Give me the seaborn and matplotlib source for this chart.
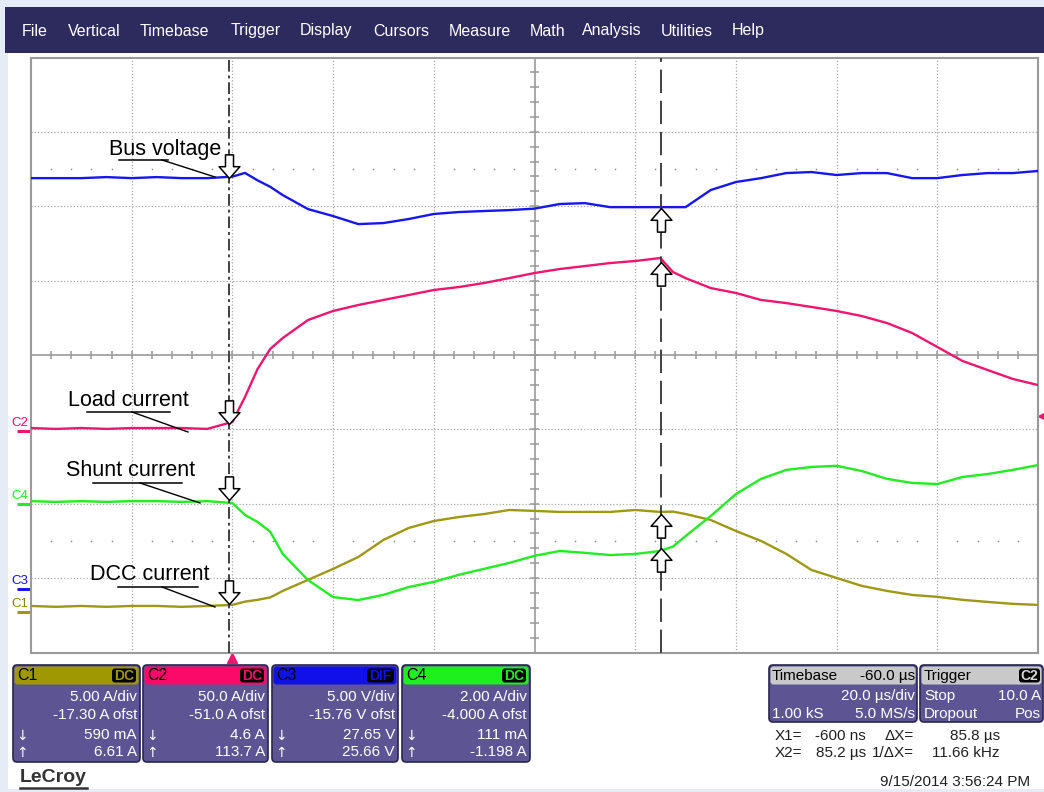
import numpy as np
import pandas as pd
import matplotlib
matplotlib.use("Agg")
import matplotlib.pyplot as plt
import seaborn as sns
from matplotlib.patches import Rectangle, FancyBboxPatch
from matplotlib.path import Path
from matplotlib.transforms import blended_transform_factory

# ---------------- data ----------------
time_us = [-40, -35, -30, -25, -20, -15, -10, -5, 0, 2.5, 5, 7.5, 10, 15, 20, 25, 30,
           35, 40, 45, 50, 55, 60, 65, 70, 75, 80, 85, 87.5, 90, 95, 100, 105, 110,
           115, 120, 125, 130, 135, 140, 145, 150, 155, 160]

c1_dcc_A = [0.43, 0.37, 0.43, 0.37, 0.43, 0.43, 0.37, 0.43, 0.50, 0.72, 0.84, 1.00,
            1.44, 2.18, 2.92, 3.72, 4.87, 5.67, 6.14, 6.41, 6.61, 6.88, 6.82, 6.75,
            6.75, 6.75, 6.88, 6.75, 6.77, 6.61, 6.21, 5.47, 4.80, 3.93, 2.85, 2.31,
            1.78, 1.44, 1.17, 1.04, 0.84, 0.70, 0.57, 0.50]

c2_load_A = [1.9, 1.3, 1.9, 1.3, 1.9, 1.9, 1.9, 1.3, 6.0, 22.8, 41.6, 55.0, 62.4,
             74.5, 80.6, 84.6, 88.0, 91.3, 94.7, 96.7, 99.4, 102.7, 106.1, 108.8,
             110.8, 112.8, 114.2, 116.2, 106.8, 102.7, 96.0, 92.7, 88.0, 85.9, 83.3,
             80.6, 77.2, 72.5, 65.8, 56.4, 47.0, 40.9, 34.9, 30.8]

c3_bus_V = [27.65, 27.65, 27.65, 27.72, 27.65, 27.72, 27.65, 27.65, 27.75, 28.00,
            27.50, 27.07, 26.51, 25.57, 25.10, 24.56, 24.63, 24.90, 25.24, 25.37,
            25.44, 25.50, 25.60, 25.91, 25.97, 25.70, 25.70, 25.70, 25.70, 25.70,
            26.85, 27.39, 27.65, 27.99, 28.06, 27.86, 27.99, 27.99, 27.65, 27.65,
            27.86, 27.99, 27.99, 28.13]

c4_shunt_A = [0.07, 0.05, 0.07, 0.05, 0.07, 0.07, 0.05, 0.07, 0.02, -0.30, -0.49,
              -0.75, -1.35, -2.05, -2.51, -2.59, -2.45, -2.24, -2.10, -1.91, -1.75,
              -1.59, -1.40, -1.27, -1.32, -1.38, -1.35, -1.27, -1.15, -0.87, -0.33,
              0.26, 0.67, 0.91, 0.99, 1.02, 0.88, 0.67, 0.56, 0.53, 0.72, 0.80,
              0.91, 1.04]

channels = ["C1", "C2", "C3", "C4"]
units_per_div = [5.00, 50.0, 5.00, 2.00]
offsets = [-17.30, -51.0, -15.76, -4.000]
value_at_x1 = [0.590, 4.6, 27.65, 0.111]
value_at_x2 = [6.61, 113.7, 25.66, -1.198]
cursor_x1_us = -0.6
cursor_x2_us = 85.2
trigger_level_A = 10.0

scale_labels = ["5.00 A/div", "50.0 A/div", "5.00 V/div", "2.00 A/div"]
offset_labels = ["-17.30 A ofst", "-51.0 A ofst", "-15.76 V ofst", "-4.000 A ofst"]
x1_labels = ["590 mA", "4.6 A", "27.65 V", "111 mA"]
x2_labels = ["6.61 A", "113.7 A", "25.66 V", "-1.198 A"]
coupling = ["DC", "DC", "DIF", "DC"]
menu_items = ["File", "Vertical", "Timebase", "Trigger", "Display", "Cursors",
              "Measure", "Math", "Analysis", "Utilities", "Help"]

trace_colors = {"C1": "#9e9815", "C2": "#f0166e", "C3": "#1616ee", "C4": "#22ec22"}
head_colors = {"C1": "#a09800", "C2": "#fb0a6a", "C3": "#1010e8", "C4": "#1ef01e"}

# ---------------- figure ----------------
plt.rcParams['font.family'] = ['Liberation Sans', 'DejaVu Sans']
fig = plt.figure(figsize=(10.44, 7.92), dpi=100, facecolor='white')
ax = fig.add_axes([31 / 1044, 1 - 652.5 / 792, 1007 / 1044, 595 / 792])
ax.set_facecolor('white')

series = {"C1": c1_dcc_A, "C2": c2_load_A, "C3": c3_bus_V, "C4": c4_shunt_A}
rows = []
for i, ch in enumerate(channels):
    for t, v in zip(time_us, series[ch]):
        rows.append({"t": t, "div": (v + offsets[i]) / units_per_div[i], "ch": ch})
df = pd.DataFrame(rows)

# grid
grid_c = '#a8a8a8'
for t in [-20, 0, 20, 40, 80, 100, 120, 140]:
    ax.axvline(t, color=grid_c, lw=0.9, ls=(0, (1, 1.6)), zorder=1)
for d in [-3, -2, -1, 1, 2, 3]:
    ax.axhline(d, color=grid_c, lw=0.9, ls=(0, (1, 1.6)), zorder=1)
ax.axvline(60, color='#9a9a9a', lw=1.2, zorder=1)
ax.axhline(0, color='#9a9a9a', lw=1.2, zorder=1)
minor_t = np.arange(-40, 161, 4)
minor_d = np.arange(-4, 4.01, 0.2)
ax.vlines(minor_t, -0.055, 0.055, color='#9a9a9a', lw=1.1, zorder=1)
ax.hlines(minor_d, 59.2, 60.8, color='#9a9a9a', lw=1.1, zorder=1)
dots_t = [t for t in minor_t if t % 20 != 0]
ax.scatter(dots_t, [2.5] * len(dots_t), s=1.5, color='#909090', zorder=1, lw=0)
ax.scatter(dots_t, [-2.5] * len(dots_t), s=1.5, color='#909090', zorder=1, lw=0)

sns.lineplot(data=df, x="t", y="div", hue="ch", hue_order=["C1", "C4", "C2", "C3"],
             palette=trace_colors, estimator=None, sort=False, linewidth=1.7,
             legend=False, ax=ax, zorder=4)

ax.set_xlim(-40, 160)
ax.set_ylim(-4, 4)
ax.set_xticks([])
ax.set_yticks([])
ax.set_xlabel("")
ax.set_ylabel("")
for s in ax.spines.values():
    s.set_color('#9a9a9a')
    s.set_linewidth(1.5)

# cursors
ax.axvline(cursor_x1_us, color='#404040', lw=1.4, ls=(0, (6, 2, 1.5, 2)), zorder=5)
ax.axvline(cursor_x2_us, color='#404040', lw=1.4, ls=(0, (12, 4)), zorder=5)

MV, LT, CL = Path.MOVETO, Path.LINETO, Path.CLOSEPOLY
dn = [(0, 0), (0.44, 0.5), (0.17, 0.5), (0.17, 1), (-0.17, 1), (-0.17, 0.5),
      (-0.44, 0.5), (0, 0)]
codes = [MV] + [LT] * 6 + [CL]
down_arrow = Path(dn, codes)
up_arrow = Path([(x, -y) for x, y in dn], codes)
for i, ch in enumerate(channels):
    d1 = (value_at_x1[i] + offsets[i]) / units_per_div[i]
    d2 = (value_at_x2[i] + offsets[i]) / units_per_div[i]
    ax.plot([cursor_x1_us], [d1], marker=down_arrow, ms=34, mfc='white', mec='black',
            mew=1.1, ls='none', zorder=6)
    ax.plot([cursor_x2_us], [d2], marker=up_arrow, ms=34, mfc='white', mec='black',
            mew=1.1, ls='none', zorder=6)

# channel ground markers on the left
bt = blended_transform_factory(ax.transAxes, ax.transData)
for i, ch in enumerate(channels):
    g = offsets[i] / units_per_div[i]
    ax.plot([-0.014, -0.001], [g, g], color=trace_colors[ch], lw=2.2, transform=bt,
            clip_on=False, solid_capstyle='butt')
    ax.text(-0.019, g + 0.03, ch, color=head_colors[ch] if ch != "C1" else "#8a8400",
            fontsize=9.5, transform=bt, ha='left', va='bottom', clip_on=False)

# trigger level marker (right) and trigger position marker (bottom)
tl = (trigger_level_A + offsets[1]) / units_per_div[1]
ax.plot([1.003], [tl], marker='<', ms=5, color=trace_colors["C2"], transform=bt,
        clip_on=False, ls='none')
bt2 = blended_transform_factory(ax.transData, ax.transAxes)
ax.plot([0], [-0.009], marker='^', ms=7, color=trace_colors["C2"], transform=bt2,
        clip_on=False, ls='none')

# ---------------- overlay (pixel coordinates) ----------------
ov = fig.add_axes([0, 0, 1, 1], zorder=10)
ov.set_xlim(0, 1044)
ov.set_ylim(792, 0)
ov.axis('off')
ov.patch.set_alpha(0)

light = '#e6ecf5'
ov.add_patch(Rectangle((0, 0), 1044, 7, fc=light, ec='none'))
ov.add_patch(Rectangle((0, 0), 8, 792, fc=light, ec='none'))
ov.add_patch(Rectangle((0, 789), 1044, 3, fc=light, ec='none'))
ov.add_patch(Rectangle((5, 7), 1039, 46, fc='#2d2a5e', ec='none'))
menu_x = [22, 68, 140, 231, 300, 373, 449, 530, 582, 661, 732]
for x, m in zip(menu_x, menu_items):
    ov.text(x, 31, m, color='white', fontsize=11.5, ha='left', va='center')

# annotations
labels = [("Bus voltage", 165, 149, (119, 168, 160), (162, 160, 215, 177)),
          ("Load current", 128, 400, (87, 170, 412), (132, 412, 188, 432)),
          ("Shunt current", 131, 471, (93, 182, 483), (140, 483, 200, 503)),
          ("DCC current", 150, 575, (118, 198, 587), (162, 587, 215, 607))]
for txt, tx, ty, ul, ld in labels:
    ov.text(tx, ty, txt, fontsize=15.5, ha='center', va='center', color='black')
    ov.plot([ul[0], ul[1]], [ul[2], ul[2]], color='black', lw=1.1)
    ov.plot([ld[0], ld[2]], [ld[1], ld[3]], color='black', lw=1.0)

# channel boxes
body_c = '#5d5593'
edge_c = '#2a2550'
boxes = [(13, 140), (143, 268), (272, 398), (402, 530)]
for i, ch in enumerate(channels):
    x0, x1 = boxes[i]
    ov.add_patch(FancyBboxPatch((x0, 665), x1 - x0, 97,
                                boxstyle="round,pad=0,rounding_size=4",
                                fc=body_c, ec=edge_c, lw=1.2))
    ov.add_patch(FancyBboxPatch((x0 + 1.5, 666.5), x1 - x0 - 3, 18,
                                boxstyle="round,pad=0,rounding_size=3",
                                fc=head_colors[ch], ec='none'))
    ov.text(x0 + 4, 676, ch, fontsize=11.5, color='black', ha='left', va='center')
    bw = 27 if coupling[i] == "DIF" else 24
    ov.add_patch(FancyBboxPatch((x1 - 4 - bw, 668.5), bw, 14,
                                boxstyle="round,pad=0,rounding_size=3",
                                fc='black', ec='none'))
    ov.text(x1 - 4 - bw / 2, 676, coupling[i], fontsize=10, color=head_colors[ch],
            ha='center', va='center', fontweight='bold')
    xr = x1 - 3
    ov.text(xr, 697, scale_labels[i], fontsize=11, color='white', ha='right', va='center')
    ov.text(xr, 715, offset_labels[i], fontsize=11, color='white', ha='right', va='center')
    ov.text(xr, 735, x1_labels[i], fontsize=11, color='white', ha='right', va='center')
    ov.text(xr, 752, x2_labels[i], fontsize=11, color='white', ha='right', va='center')
    ov.text(x0 + 3, 736, "\u2193", fontsize=10, color='white', ha='left', va='center',
            family=['DejaVu Sans'])
    ov.text(x0 + 3, 753, "\u2191", fontsize=10, color='white', ha='left', va='center',
            family=['DejaVu Sans'])

# timebase box
ov.add_patch(FancyBboxPatch((769, 665), 148, 57, boxstyle="round,pad=0,rounding_size=4",
                            fc=body_c, ec=edge_c, lw=1.2))
ov.add_patch(FancyBboxPatch((770.5, 666.5), 145, 18, boxstyle="round,pad=0,rounding_size=3",
                            fc='#c9c9c9', ec='none'))
ov.text(772, 676, "Timebase", fontsize=11, color='black', ha='left', va='center')
ov.text(915, 676, "-60.0 \u00b5s", fontsize=11, color='black', ha='right', va='center')
ov.text(915, 696, "20.0 \u00b5s/div", fontsize=11, color='white', ha='right', va='center')
ov.text(772, 714, "1.00 kS", fontsize=11, color='white', ha='left', va='center')
ov.text(915, 714, "5.0 MS/s", fontsize=11, color='white', ha='right', va='center')

# trigger box
ov.add_patch(FancyBboxPatch((920, 665), 123, 57, boxstyle="round,pad=0,rounding_size=4",
                            fc=body_c, ec=edge_c, lw=1.2))
ov.add_patch(FancyBboxPatch((921.5, 666.5), 120, 18, boxstyle="round,pad=0,rounding_size=3",
                            fc='#c9c9c9', ec='none'))
ov.text(924, 676, "Trigger", fontsize=11, color='black', ha='left', va='center')
ov.add_patch(FancyBboxPatch((1019, 668.5), 21, 14, boxstyle="round,pad=0,rounding_size=3",
                            fc='black', ec='none'))
ov.text(1029.5, 676, "C2", fontsize=10, color='#d8d8d8', ha='center', va='center',
        fontweight='bold')
ov.text(924, 696, "Stop", fontsize=11, color='white', ha='left', va='center')
ov.text(1041, 696, f"{trigger_level_A:.1f} A", fontsize=11, color='white', ha='right',
        va='center')
ov.text(924, 714, "Dropout", fontsize=11, color='white', ha='left', va='center')
ov.text(1041, 714, "Pos", fontsize=11, color='white', ha='right', va='center')

# cursor readouts
dx = cursor_x2_us - cursor_x1_us
tc = '#202020'
ov.text(775, 736, "X1=", fontsize=11, color=tc, ha='left', va='center')
ov.text(866, 736, f"{cursor_x1_us * 1000:.0f} ns", fontsize=11, color=tc, ha='right', va='center')
ov.text(914, 736, "\u0394X=", fontsize=11, color=tc, ha='right', va='center')
ov.text(1000, 736, f"{dx:.1f} \u00b5s", fontsize=11, color=tc, ha='right', va='center')
ov.text(775, 753, "X2=", fontsize=11, color=tc, ha='left', va='center')
ov.text(866, 753, f"{cursor_x2_us:.1f} \u00b5s", fontsize=11, color=tc, ha='right', va='center')
ov.text(914, 753, "1/\u0394X=", fontsize=11, color=tc, ha='right', va='center')
ov.text(1000, 753, f"{1000 / dx:.2f} kHz", fontsize=11, color=tc, ha='right', va='center')
ov.text(1030, 782, "9/15/2014 3:56:24 PM", fontsize=11, color=tc, ha='right', va='center')

# LeCroy logo
ov.text(20, 777, "LeCroy", fontsize=14, color='#333333', ha='left', va='center',
        fontweight='semibold')
ov.plot([20, 87], [788, 788], color='#333333', lw=1.8)

fig.savefig("out.png", dpi=100, facecolor='white')
